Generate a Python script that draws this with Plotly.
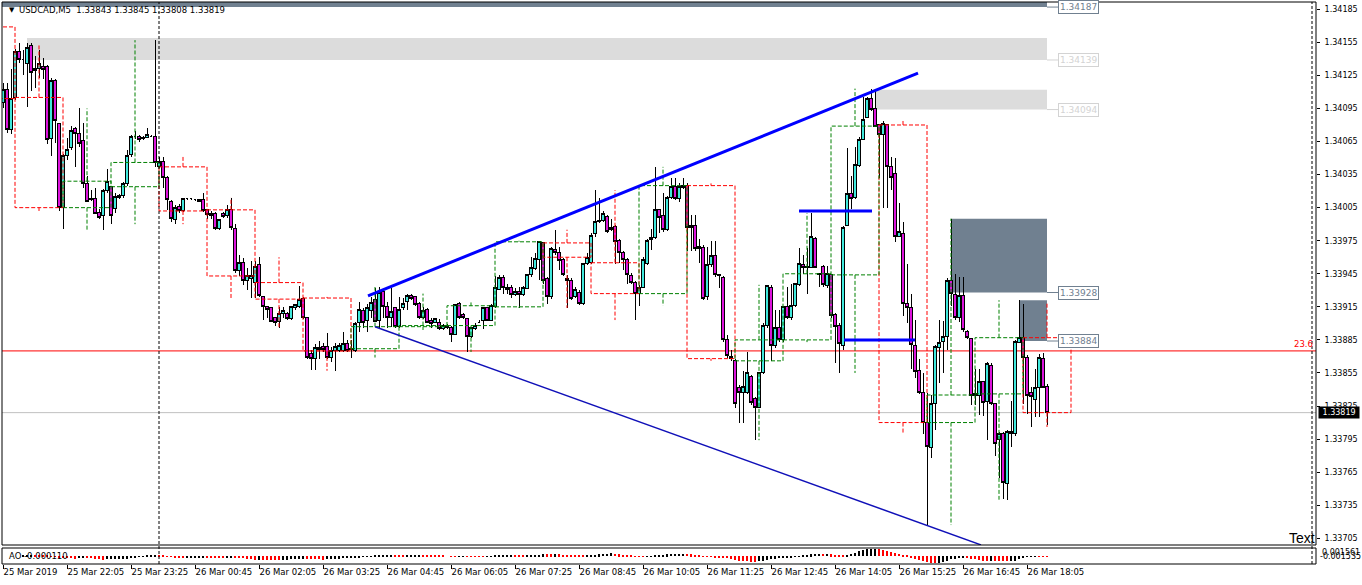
import numpy as np
import pandas as pd
import plotly.graph_objects as go

SYMBOL = "USDCAD,M5"
start_time = "2019-03-25 20:45"

opens = [
    1.34100, 1.34112, 1.34076, 1.34105, 1.34147, 1.34139, 1.34136, 1.34152, 1.34129, 1.34131,
    1.34133, 1.34133, 1.34068, 1.34120, 1.34081, 1.34005, 1.34052, 1.34060, 1.34077, 1.34072,
    1.34066, 1.34027, 1.34012, 1.34013, 1.34001, 1.33998, 1.34021, 1.34024, 1.34004, 1.34014,
    1.34016, 1.34027, 1.34053, 1.34070, 1.34070, 1.34068, 1.34069, 1.34070, 1.34070, 1.34042,
    1.34047, 1.34032, 1.34011, 1.33994, 1.34006, 1.34002, 1.34013, 1.34013, 1.34012, 1.34012,
    1.34012, 1.34003, 1.34000, 1.34000, 1.33986, 1.34000, 1.33998, 1.34003, 1.33986, 1.33948,
    1.33955, 1.33939, 1.33941, 1.33937, 1.33953, 1.33924, 1.33915, 1.33914, 1.33905, 1.33902,
    1.33909, 1.33909, 1.33904, 1.33914, 1.33915, 1.33923, 1.33905, 1.33873, 1.33868, 1.33876,
    1.33879, 1.33879, 1.33869, 1.33875, 1.33875, 1.33875, 1.33882, 1.33877, 1.33875, 1.33901,
    1.33912, 1.33903, 1.33912, 1.33922, 1.33903, 1.33929, 1.33915, 1.33905, 1.33914, 1.33897,
    1.33914, 1.33920, 1.33925, 1.33924, 1.33918, 1.33905, 1.33913, 1.33903, 1.33901, 1.33901,
    1.33895, 1.33898, 1.33896, 1.33890, 1.33918, 1.33908, 1.33904, 1.33888, 1.33895, 1.33901,
    1.33903, 1.33914, 1.33903, 1.33915, 1.33931, 1.33942, 1.33933, 1.33933, 1.33926, 1.33929,
    1.33926, 1.33932, 1.33944, 1.33950, 1.33958, 1.33973, 1.33941, 1.33924, 1.33967, 1.33964,
    1.33958, 1.33941, 1.33939, 1.33924, 1.33928, 1.33918, 1.33954, 1.33955, 1.33982, 1.33992,
    1.33993, 1.33997, 1.33985, 1.33988, 1.33975, 1.33964, 1.33958, 1.33943, 1.33937, 1.33927,
    1.33933, 1.33954, 1.33976, 1.33978, 1.34003, 1.33998, 1.33985, 1.34014, 1.34024, 1.34013,
    1.34023, 1.34025, 1.33987, 1.33989, 1.33970, 1.33969, 1.33924, 1.33953, 1.33962, 1.33944,
    1.33942, 1.33885, 1.33870, 1.33866, 1.33842, 1.33837, 1.33837, 1.33852, 1.33832, 1.33824,
    1.33855, 1.33898, 1.33933, 1.33880, 1.33896, 1.33885, 1.33915, 1.33905, 1.33916, 1.33935,
    1.33953, 1.33952, 1.33951, 1.33977, 1.33945, 1.33952, 1.33934, 1.33944, 1.33908, 1.33898,
    1.33880, 1.33989, 1.34018, 1.34014, 1.34043, 1.34067, 1.34087, 1.34104, 1.34095, 1.34080,
    1.34071, 1.34080, 1.34042, 1.34036, 1.33979, 1.33982, 1.33918, 1.33914, 1.33880, 1.33857,
    1.33837, 1.33810, 1.33787, 1.33827, 1.33878, 1.33884, 1.33888, 1.33939, 1.33926, 1.33905,
    1.33925, 1.33893, 1.33886, 1.33836, 1.33835, 1.33847, 1.33829, 1.33862, 1.33827, 1.33795,
    1.33800, 1.33755, 1.33800, 1.33800, 1.33883, 1.33887, 1.33869, 1.33837, 1.33831, 1.33842,
    1.33868, 1.33843,
]
highs = [
    1.34118, 1.34118, 1.34131, 1.34149, 1.34154, 1.34148, 1.34154, 1.34154, 1.34143, 1.34148,
    1.34141, 1.34134, 1.34123, 1.34122, 1.34082, 1.34054, 1.34068, 1.34079, 1.34078, 1.34095,
    1.34082, 1.34034, 1.34021, 1.34023, 1.34004, 1.34022, 1.34040, 1.34024, 1.34018, 1.34017,
    1.34028, 1.34057, 1.34071, 1.34075, 1.34071, 1.34070, 1.34077, 1.34071, 1.34157, 1.34051,
    1.34051, 1.34034, 1.34012, 1.34007, 1.34008, 1.34014, 1.34014, 1.34014, 1.34013, 1.34013,
    1.34018, 1.34004, 1.34002, 1.34001, 1.33995, 1.34001, 1.34007, 1.34014, 1.33990, 1.33962,
    1.33959, 1.33950, 1.33957, 1.33957, 1.33960, 1.33925, 1.33916, 1.33915, 1.33906, 1.33915,
    1.33915, 1.33910, 1.33916, 1.33918, 1.33934, 1.33924, 1.33906, 1.33876, 1.33881, 1.33884,
    1.33882, 1.33891, 1.33879, 1.33882, 1.33882, 1.33892, 1.33885, 1.33885, 1.33901, 1.33919,
    1.33914, 1.33918, 1.33924, 1.33932, 1.33933, 1.33930, 1.33919, 1.33932, 1.33915, 1.33924,
    1.33923, 1.33927, 1.33927, 1.33925, 1.33919, 1.33915, 1.33914, 1.33905, 1.33905, 1.33904,
    1.33899, 1.33899, 1.33898, 1.33918, 1.33919, 1.33909, 1.33905, 1.33897, 1.33900, 1.33903,
    1.33915, 1.33915, 1.33918, 1.33943, 1.33944, 1.33944, 1.33936, 1.33935, 1.33932, 1.33933,
    1.33934, 1.33945, 1.33960, 1.33964, 1.33975, 1.33974, 1.33942, 1.33969, 1.33985, 1.33969,
    1.33959, 1.33944, 1.33941, 1.33933, 1.33930, 1.33955, 1.33964, 1.33982, 1.34021, 1.34014,
    1.34002, 1.33998, 1.33995, 1.33989, 1.33977, 1.33966, 1.33959, 1.33946, 1.33938, 1.33935,
    1.33960, 1.33977, 1.33986, 1.34042, 1.34004, 1.34018, 1.34016, 1.34032, 1.34032, 1.34027,
    1.34032, 1.34027, 1.33998, 1.33998, 1.33977, 1.33971, 1.33969, 1.33975, 1.33975, 1.33945,
    1.33943, 1.33889, 1.33876, 1.33868, 1.33844, 1.33857, 1.33874, 1.33853, 1.33833, 1.33856,
    1.33900, 1.33935, 1.33935, 1.33912, 1.33912, 1.33916, 1.33933, 1.33936, 1.33937, 1.33968,
    1.33962, 1.33968, 1.34000, 1.33978, 1.33946, 1.33953, 1.33952, 1.33945, 1.33909, 1.33900,
    1.33988, 1.34059, 1.34034, 1.34060, 1.34069, 1.34105, 1.34105, 1.34113, 1.34112, 1.34081,
    1.34084, 1.34081, 1.34051, 1.34050, 1.34009, 1.33992, 1.33954, 1.33927, 1.33903, 1.33868,
    1.33855, 1.33837, 1.33835, 1.33880, 1.33903, 1.33902, 1.33941, 1.33995, 1.33945, 1.33942,
    1.33942, 1.33894, 1.33887, 1.33859, 1.33859, 1.33848, 1.33865, 1.33864, 1.33828, 1.33801,
    1.33801, 1.33803, 1.33830, 1.33885, 1.33921, 1.33918, 1.33871, 1.33842, 1.33859, 1.33872,
    1.33873, 1.33845,
]
lows = [
    1.34095, 1.34073, 1.34072, 1.34103, 1.34136, 1.34125, 1.34096, 1.34111, 1.34114, 1.34123,
    1.34122, 1.34063, 1.34052, 1.34064, 1.34002, 1.33986, 1.34048, 1.34057, 1.34042, 1.34060,
    1.34023, 1.34010, 1.34011, 1.34000, 1.33995, 1.33985, 1.34018, 1.33990, 1.34000, 1.34013,
    1.34014, 1.34025, 1.34051, 1.34067, 1.34065, 1.34066, 1.34069, 1.34069, 1.34042, 1.34041,
    1.34023, 1.34003, 1.33992, 1.33990, 1.34000, 1.34001, 1.34012, 1.34012, 1.34011, 1.34011,
    1.34001, 1.33995, 1.33995, 1.33985, 1.33985, 1.33996, 1.33996, 1.33985, 1.33946, 1.33943,
    1.33935, 1.33930, 1.33923, 1.33923, 1.33924, 1.33903, 1.33905, 1.33901, 1.33898, 1.33896,
    1.33905, 1.33903, 1.33903, 1.33912, 1.33914, 1.33904, 1.33868, 1.33858, 1.33858, 1.33868,
    1.33874, 1.33868, 1.33865, 1.33857, 1.33874, 1.33874, 1.33874, 1.33869, 1.33874, 1.33892,
    1.33896, 1.33892, 1.33905, 1.33901, 1.33896, 1.33905, 1.33896, 1.33897, 1.33896, 1.33896,
    1.33912, 1.33912, 1.33921, 1.33916, 1.33904, 1.33904, 1.33900, 1.33896, 1.33900, 1.33894,
    1.33894, 1.33895, 1.33883, 1.33889, 1.33904, 1.33904, 1.33874, 1.33887, 1.33894, 1.33900,
    1.33895, 1.33902, 1.33902, 1.33914, 1.33930, 1.33927, 1.33927, 1.33923, 1.33925, 1.33914,
    1.33925, 1.33931, 1.33942, 1.33948, 1.33939, 1.33936, 1.33918, 1.33922, 1.33962, 1.33948,
    1.33943, 1.33914, 1.33921, 1.33923, 1.33917, 1.33917, 1.33953, 1.33954, 1.33978, 1.33991,
    1.33992, 1.33982, 1.33984, 1.33954, 1.33955, 1.33948, 1.33936, 1.33936, 1.33903, 1.33916,
    1.33932, 1.33953, 1.33967, 1.33977, 1.33982, 1.33983, 1.33984, 1.34013, 1.34012, 1.34010,
    1.34022, 1.33966, 1.33966, 1.33966, 1.33955, 1.33921, 1.33921, 1.33951, 1.33942, 1.33932,
    1.33883, 1.33869, 1.33866, 1.33823, 1.33810, 1.33810, 1.33836, 1.33826, 1.33794, 1.33823,
    1.33854, 1.33896, 1.33866, 1.33878, 1.33883, 1.33883, 1.33904, 1.33903, 1.33915, 1.33934,
    1.33945, 1.33927, 1.33950, 1.33950, 1.33933, 1.33933, 1.33932, 1.33905, 1.33864, 1.33855,
    1.33876, 1.33988, 1.34004, 1.34013, 1.34042, 1.34066, 1.34086, 1.34093, 1.34078, 1.34032,
    1.34005, 1.34005, 1.34021, 1.33974, 1.33978, 1.33907, 1.33900, 1.33859, 1.33850, 1.33836,
    1.33800, 1.33717, 1.33778, 1.33803, 1.33846, 1.33855, 1.33876, 1.33916, 1.33903, 1.33901,
    1.33892, 1.33886, 1.33826, 1.33826, 1.33817, 1.33816, 1.33794, 1.33826, 1.33780, 1.33760,
    1.33741, 1.33740, 1.33788, 1.33798, 1.33882, 1.33827, 1.33818, 1.33806, 1.33815, 1.33815,
    1.33841, 1.33808,
]
closes = [
    1.34112, 1.34076, 1.34104, 1.34147, 1.34139, 1.34139, 1.34150, 1.34128, 1.34131, 1.34136,
    1.34130, 1.34067, 1.34120, 1.34084, 1.34005, 1.34052, 1.34058, 1.34075, 1.34072, 1.34063,
    1.34027, 1.34011, 1.34013, 1.34000, 1.33996, 1.34021, 1.34029, 1.33998, 1.34015, 1.34016,
    1.34027, 1.34052, 1.34070, 1.34070, 1.34067, 1.34069, 1.34071, 1.34070, 1.34046, 1.34047,
    1.34032, 1.34012, 1.33995, 1.34005, 1.34002, 1.34013, 1.34013, 1.34013, 1.34012, 1.34011,
    1.34002, 1.33999, 1.33998, 1.33986, 1.33994, 1.33997, 1.34003, 1.33987, 1.33948, 1.33955,
    1.33939, 1.33943, 1.33943, 1.33952, 1.33925, 1.33915, 1.33913, 1.33902, 1.33901, 1.33909,
    1.33912, 1.33904, 1.33915, 1.33917, 1.33922, 1.33905, 1.33869, 1.33868, 1.33878, 1.33878,
    1.33876, 1.33869, 1.33875, 1.33879, 1.33880, 1.33882, 1.33875, 1.33876, 1.33900, 1.33913,
    1.33901, 1.33914, 1.33919, 1.33902, 1.33928, 1.33915, 1.33905, 1.33911, 1.33897, 1.33913,
    1.33918, 1.33925, 1.33923, 1.33917, 1.33905, 1.33912, 1.33901, 1.33900, 1.33904, 1.33895,
    1.33898, 1.33896, 1.33890, 1.33917, 1.33905, 1.33905, 1.33888, 1.33896, 1.33898, 1.33901,
    1.33914, 1.33903, 1.33916, 1.33933, 1.33942, 1.33933, 1.33931, 1.33926, 1.33929, 1.33926,
    1.33933, 1.33944, 1.33951, 1.33959, 1.33974, 1.33939, 1.33924, 1.33968, 1.33964, 1.33957,
    1.33944, 1.33939, 1.33923, 1.33931, 1.33918, 1.33954, 1.33960, 1.33980, 1.33992, 1.33993,
    1.34000, 1.33983, 1.33987, 1.33974, 1.33964, 1.33958, 1.33944, 1.33937, 1.33927, 1.33933,
    1.33958, 1.33975, 1.33978, 1.34003, 1.33996, 1.33985, 1.34014, 1.34024, 1.34013, 1.34024,
    1.34025, 1.33987, 1.33989, 1.33968, 1.33968, 1.33923, 1.33953, 1.33962, 1.33944, 1.33943,
    1.33885, 1.33871, 1.33868, 1.33827, 1.33837, 1.33843, 1.33855, 1.33828, 1.33824, 1.33855,
    1.33898, 1.33934, 1.33880, 1.33896, 1.33885, 1.33915, 1.33905, 1.33916, 1.33936, 1.33954,
    1.33951, 1.33951, 1.33979, 1.33951, 1.33944, 1.33935, 1.33945, 1.33907, 1.33897, 1.33882,
    1.33987, 1.34018, 1.34013, 1.34044, 1.34067, 1.34085, 1.34104, 1.34094, 1.34079, 1.34071,
    1.34081, 1.34042, 1.34032, 1.33979, 1.33983, 1.33918, 1.33914, 1.33881, 1.33856, 1.33837,
    1.33810, 1.33788, 1.33827, 1.33879, 1.33883, 1.33888, 1.33939, 1.33927, 1.33905, 1.33925,
    1.33894, 1.33887, 1.33835, 1.33835, 1.33847, 1.33828, 1.33864, 1.33827, 1.33791, 1.33800,
    1.33756, 1.33802, 1.33802, 1.33884, 1.33887, 1.33869, 1.33835, 1.33834, 1.33842, 1.33869,
    1.33842, 1.33819,
]
# open of the H1 candle that began before the first visible M5 bar
h1_first_open = 1.34169

# supply / demand zones
zone_low = [1.34187, 1.34139, 1.34094, 1.33928, 1.33884]
zone_high = [1.34215, 1.34159, 1.34112, 1.33995, 1.33921]
zone_from_bar = [-3, 6, 218, 237, 254]
zone_fill = ["#708090", "#dcdcdc", "#dcdcdc", "#708090", "#708090"]
zone_text = ["#708090", "#d3d3d3", "#d3d3d3", "#708090", "#708090"]

# drawn objects (bar index, price)
trend_x = [[91.25, 228.75], [93.0, 244.5]]
trend_y = [[1.33925, 1.34127], [1.33897, 1.33699]]
level_x = [[199.0, 217.25], [210.25, 228.0]]
level_y = [1.34002, 1.33885]
fib_level = 1.33875
fib_label = "23.6"
ao_label = "AO -0.000110"
ao_max_label, ao_min_label = "0.001561", "-0.001535"
ao_range = [-0.001535, 0.001561]
vline_bar = 327.25

BULL = "#40e8dc"
BEAR = "#dc14dc"
FONT = "DejaVu Sans"

# ---------------------------------------------------------------- geometry
W, H = 1362, 585
ML, MR, MT, MB = 2, 46, 2, 21
PW, PH = W - ML - MR, H - MT - MB


def pxx(X):
    return (X - ML) / PW


def pxy(Y):
    return (H - MB - Y) / PH


n = len(closes)
idx = np.arange(n)
times = pd.date_range(start_time, periods=n, freq="5min")
bar_td = pd.Timedelta("5min")

fig = go.Figure()

# ---------------------------------------------------------------- H1 overlay
df = pd.DataFrame(dict(o=opens, h=highs, l=lows, c=closes), index=times)
segs = {"#ff0000": ([], []), "#008000": ([], [])}
for hr, g in df.groupby(df.index.floor("h")):
    x0 = (hr - times[0]) / bar_td
    o = h1_first_open if hr < times[0] else g["o"].iloc[0]
    c = g["c"].iloc[-1]
    hi = max(g["h"].max(), o)
    lo = min(g["l"].min(), o)
    col = "#008000" if c >= o else "#ff0000"
    xs, ys = segs[col]
    x1, xm = x0 + 12, x0 + 6
    xs += [x0, x1, x1, x0, x0, None, xm, xm, None, xm, xm, None]
    ys += [o, o, c, c, o, None, max(o, c), hi, None, min(o, c), lo, None]
for col, (xs, ys) in segs.items():
    fig.add_trace(go.Scatter(x=xs, y=ys, mode="lines", xaxis="x", yaxis="y",
                             line=dict(color=col, width=1, dash="4px,2px"),
                             hoverinfo="skip", showlegend=False))

# ---------------------------------------------------------------- candles
fig.add_trace(go.Candlestick(
    x=idx, open=opens, high=highs, low=lows, close=closes,
    increasing=dict(fillcolor=BULL, line=dict(color="black", width=1)),
    decreasing=dict(fillcolor=BEAR, line=dict(color="black", width=1)),
    whiskerwidth=0, hoverinfo="skip", showlegend=False, xaxis="x", yaxis="y"))

# ---------------------------------------------------------------- trend objects
for tx, ty, w, col in zip(trend_x, trend_y, [3, 1.5], ["#0000ff", "#1010b8"]):
    fig.add_trace(go.Scatter(x=tx, y=ty, mode="lines", line=dict(color=col, width=w),
                             xaxis="x", yaxis="y", hoverinfo="skip", showlegend=False))
for lx, ly in zip(level_x, level_y):
    fig.add_trace(go.Scatter(x=lx, y=[ly, ly], mode="lines", line=dict(color="#0000ff", width=3),
                             xaxis="x", yaxis="y", hoverinfo="skip", showlegend=False))

# ---------------------------------------------------------------- AO
med = (np.array(highs) + np.array(lows)) / 2
ms = pd.Series(med)
ao = (ms.rolling(5, min_periods=1).mean() - ms.rolling(34, min_periods=1).mean()).values
ao_col = ["black"] + ["black" if ao[i] > ao[i - 1] else "red" for i in range(1, n)]
fig.add_trace(go.Bar(x=idx, y=ao, marker=dict(color=ao_col, line=dict(width=0)), width=0.25,
                     xaxis="x", yaxis="y2", hoverinfo="skip", showlegend=False))

# ---------------------------------------------------------------- shapes
shapes = []
last_bar = n - 1
for lo, hi, x0, fc in zip(zone_low, zone_high, zone_from_bar, zone_fill):
    shapes.append(dict(type="rect", xref="x", yref="y", x0=x0, x1=last_bar, y0=lo, y1=hi,
                       fillcolor=fc, line=dict(width=0), layer="below"))
shapes.append(dict(type="line", xref="x domain", yref="y", x0=0, x1=1, y0=fib_level, y1=fib_level,
                   line=dict(color="#ff0000", width=1), layer="below"))
shapes.append(dict(type="line", xref="x domain", yref="y", x0=0, x1=1, y0=closes[-1], y1=closes[-1],
                   line=dict(color="#c0c0c0", width=1), layer="below"))
day_start = [i for i, t in enumerate(times) if t.hour == 0 and t.minute == 0]
for xv in day_start + [vline_bar]:
    shapes.append(dict(type="line", xref="x", yref="paper", x0=xv, x1=xv, y0=0, y1=1,
                       line=dict(color="black", width=1, dash="3px,2px")))
label_x = 263.75
for lo, tc in zip(zone_low, zone_text):
    shapes.append(dict(type="line", xref="x", yref="y", x0=last_bar, x1=label_x, y0=lo, y1=lo,
                       line=dict(color=tc, width=1)))
main_dom = [pxy(545), 1.0]
ind_dom = [0.0, pxy(548)]
for d in (main_dom, ind_dom):
    shapes.append(dict(type="rect", xref="paper", yref="paper", x0=0, x1=1, y0=d[0], y1=d[1],
                       line=dict(color="black", width=1), fillcolor="rgba(0,0,0,0)"))

# ---------------------------------------------------------------- annotations
ann = []
for lo, tc in zip(zone_low, zone_text):
    ann.append(dict(x=label_x, y=lo, xref="x", yref="y", text=f"{lo:.5f}", showarrow=False,
                    xanchor="left", yanchor="middle", bgcolor="white", bordercolor=tc,
                    borderwidth=1, borderpad=1, font=dict(family=FONT, size=9, color=tc)))
ann.append(dict(x=pxx(7), y=pxy(10.5), xref="paper", yref="paper", text="▼", showarrow=False,
                xanchor="left", yanchor="middle", font=dict(family=FONT, size=7, color="black")))
head = f"{SYMBOL}  {opens[-1]:.5f} {highs[-1]:.5f} {lows[-1]:.5f} {closes[-1]:.5f}"
ann.append(dict(x=pxx(17), y=pxy(10.5), xref="paper", yref="paper", text=head, showarrow=False,
                xanchor="left", yanchor="middle", font=dict(family=FONT, size=8.5, color="black")))
ann.append(dict(x=pxx(1315), y=fib_level, xref="paper", yref="y", text=fib_label, showarrow=False,
                xanchor="right", yanchor="bottom", font=dict(family=FONT, size=8.5, color="#ff0000")))
ann.append(dict(x=pxx(1318), y=closes[-1], xref="paper", yref="y", text=f" {closes[-1]:.5f} ",
                showarrow=False, xanchor="left", yanchor="middle", bgcolor="black", borderpad=1,
                font=dict(family=FONT, size=8, color="white")))
ann.append(dict(x=pxx(7), y=pxy(556), xref="paper", yref="paper", text=ao_label, showarrow=False,
                xanchor="left", yanchor="middle", font=dict(family=FONT, size=8.5, color="black")))
ann.append(dict(x=pxx(1320), y=pxy(552.5), xref="paper", yref="paper", text=ao_max_label,
                showarrow=False, xanchor="left", yanchor="middle",
                font=dict(family=FONT, size=8, color="black")))
ann.append(dict(x=pxx(1318), y=pxy(556.5), xref="paper", yref="paper", text=ao_min_label,
                showarrow=False, xanchor="left", yanchor="middle",
                font=dict(family=FONT, size=8, color="black")))
ann.append(dict(x=pxx(1317), y=pxy(537.5), xref="paper", yref="paper", text="Text", showarrow=False,
                xanchor="right", yanchor="middle",
                font=dict(family="Liberation Sans", size=14, color="black")))

# ---------------------------------------------------------------- axes
tick_idx = list(range(0, n, 16))
tick_txt = [times[0].strftime("%d %b %Y")] + [times[i].strftime("%d %b %H:%M") for i in tick_idx[1:]]

fig.update_layout(
    template="none",
    width=W, height=H, margin=dict(l=ML, r=MR, t=MT, b=MB, pad=0, autoexpand=False),
    paper_bgcolor="white", plot_bgcolor="white", showlegend=False, hovermode=False,
    boxgap=0.22, bargap=0,
    xaxis=dict(domain=[0, 1], anchor="y2", range=[-0.25, 328.25], showgrid=False, zeroline=False,
               showline=False, ticks="outside", ticklen=4, tickcolor="black", tickwidth=1,
               tickvals=tick_idx, ticktext=tick_txt, ticklabelposition="outside right",
               tickangle=0, automargin=False,
               tickfont=dict(family=FONT, size=8.5, color="black"),
               rangeslider=dict(visible=False), fixedrange=True),
    yaxis=dict(domain=main_dom, anchor="x", side="right", range=[1.336989, 1.341916],
               showgrid=False, zeroline=False, showline=False, ticks="outside", ticklen=3,
               tickcolor="black", tickmode="linear", tick0=1.33705, dtick=0.0003,
               tickformat=".5f", ticklabelstandoff=3, automargin=False, tickangle=0,
               tickfont=dict(family=FONT, size=8, color="black")),
    yaxis2=dict(domain=ind_dom, anchor="x", side="right", range=ao_range, showgrid=False,
                zeroline=False, showline=False, showticklabels=False, ticks="", automargin=False),
    shapes=shapes, annotations=ann,
)

fig.write_html("out.html", config={"displayModeBar": False},
               post_script="document.body.style.margin='0';document.body.style.padding='0';"
                           "document.documentElement.style.overflow='hidden';"
                           "document.querySelectorAll('.boxlayer path, .barlayer path')"
                           ".forEach(function(p){p.style.shapeRendering='crispEdges';});")
